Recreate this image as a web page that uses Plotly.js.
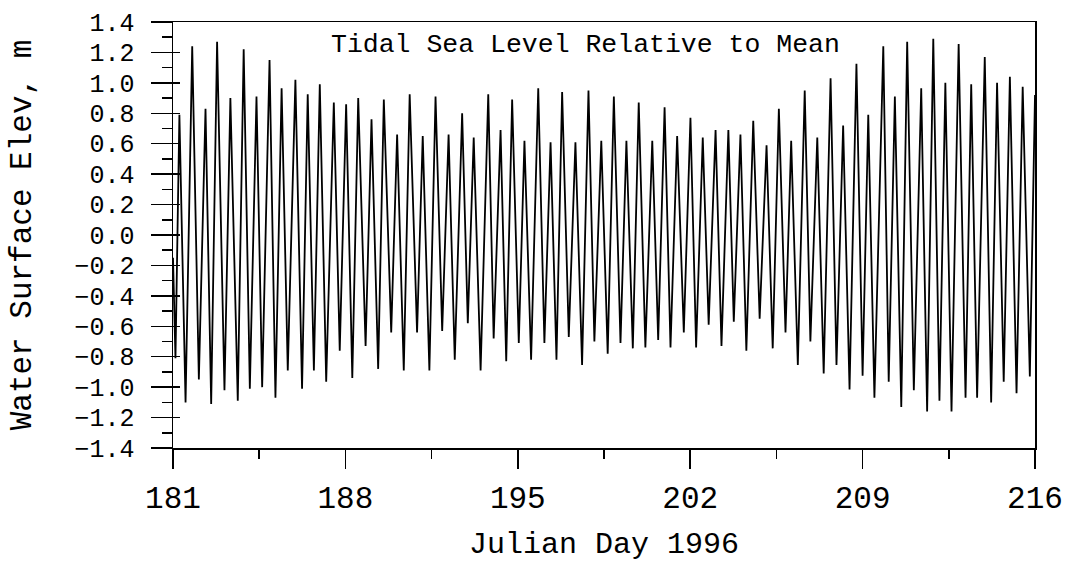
<!DOCTYPE html>
<html>
<head>
<meta charset="utf-8">
<script src="https://cdn.plot.ly/plotly-3.0.1.min.js"></script>
<style>
html,body{margin:0;padding:0;background:#fff;}
#chart{width:1071px;height:562px;}
</style>
</head>
<body>
<div id="chart"></div>
<script>
// Tidal extremes (high and low waters), Julian day 1996
const days = [181.00,181.10,181.26,181.51,181.78,182.05,182.32,182.55,182.79,183.09,
183.33,183.63,183.87,184.12,184.39,184.62,184.92,185.16,185.41,185.66,
185.97,186.24,186.47,186.72,186.96,187.22,187.53,187.77,188.03,188.28,
188.52,188.82,189.06,189.33,189.56,189.86,190.10,190.37,190.61,190.91,
191.14,191.41,191.66,191.93,192.19,192.44,192.74,192.97,193.21,193.49,
193.80,194.02,194.30,194.53,194.77,195.04,195.27,195.54,195.83,196.08,
196.33,196.57,196.80,197.07,197.34,197.61,197.87,198.11,198.39,198.65,
198.90,199.17,199.41,199.67,199.91,200.18,200.46,200.70,200.96,201.20,
201.47,201.74,202.01,202.24,202.51,202.75,203.03,203.27,203.55,203.77,
204.04,204.28,204.56,204.82,205.10,205.35,205.60,205.87,206.10,206.37,
206.65,206.88,207.16,207.42,207.70,207.94,208.21,208.47,208.75,209.00,
209.23,209.48,209.84,210.06,210.31,210.57,210.81,211.08,211.38,211.62,
211.87,212.12,212.36,212.61,212.90,213.18,213.41,213.65,213.96,214.22,
214.46,214.73,214.98,215.25,215.50,215.79,216.00];
const elev = [-0.15,-0.81,0.79,-1.10,1.24,-0.95,0.83,-1.11,1.27,-1.02,
0.90,-1.09,1.22,-1.01,0.91,-1.00,1.15,-1.07,0.965,-0.89,
1.02,-1.01,0.925,-0.89,0.99,-0.965,0.87,-0.76,0.86,-0.94,
0.90,-0.73,0.76,-0.88,0.89,-0.64,0.66,-0.89,0.925,-0.64,
0.65,-0.89,0.91,-0.63,0.66,-0.82,0.80,-0.58,0.64,-0.89,
0.925,-0.68,0.69,-0.83,0.89,-0.71,0.62,-0.82,0.965,-0.71,
0.61,-0.82,0.94,-0.67,0.61,-0.855,0.95,-0.70,0.62,-0.78,
0.91,-0.71,0.62,-0.745,0.87,-0.74,0.62,-0.69,0.84,-0.74,
0.65,-0.64,0.77,-0.74,0.64,-0.59,0.69,-0.73,0.69,-0.57,
0.66,-0.76,0.75,-0.55,0.59,-0.745,0.83,-0.64,0.62,-0.855,
0.95,-0.70,0.64,-0.91,1.03,-0.855,0.72,-1.015,1.125,-0.925,
0.79,-1.07,1.24,-0.965,0.91,-1.13,1.27,-1.02,0.965,-1.16,
1.29,-1.09,1.00,-1.16,1.255,-1.07,0.99,-1.07,1.17,-1.10,
1.00,-0.965,1.04,-1.04,0.975,-0.93,0.92];

const titleText = "Tidal Sea Level Relative to Mean";
const xTitle = "Julian Day 1996";
const yTitle = "Water Surface Elev, m";

const FONT = "Liberation Mono, Courier New, monospace";

const trace = {
  x: days, y: elev, type: 'scatter', mode: 'lines',
  line: {color: '#000', width: 1.8}, hoverinfo: 'skip', showlegend: false
};
// invisible trace on overlay axis so inner tick stubs draw
const trace2 = {
  x: [days[0]], y: [elev[0]], yaxis: 'y2', type: 'scatter', mode: 'lines',
  line: {color: 'rgba(0,0,0,0)'}, hoverinfo: 'skip', showlegend: false
};

const layout = {
  width: 1071, height: 562,
  margin: {l: 173, r: 36, t: 22, b: 114, pad: 0},
  paper_bgcolor: '#fff', plot_bgcolor: '#fff',
  font: {family: FONT, color: '#000'},
  xaxis: {
    range: [181, 216], tick0: 181, dtick: 7, tickmode: 'linear',
    ticks: 'outside', ticklen: 19, tickwidth: 1.5, tickcolor: '#000',
    minor: {dtick: 3.5, tick0: 181, ticks: 'outside', ticklen: 9, tickwidth: 1.5, tickcolor: '#000'},
    showline: true, linecolor: '#000', linewidth: 1.5, mirror: true,
    showgrid: false, zeroline: false,
    tickfont: {family: FONT, size: 31, color: '#000'},
    ticklabelstandoff: 2,
    title: {text: xTitle, font: {family: FONT, size: 30, color: '#000'}, standoff: 22},
    automargin: false, fixedrange: true
  },
  yaxis: {
    range: [-1.4, 1.4], tick0: 0, dtick: 0.2, tickmode: 'linear', tickformat: '.1f',
    ticks: 'outside', ticklen: 21, tickwidth: 1.5, tickcolor: '#000',
    minor: {dtick: 0.1, ticks: 'outside', ticklen: 10, tickwidth: 1.5, tickcolor: '#000'},
    showline: true, linecolor: '#000', linewidth: 1.5, mirror: true,
    showgrid: false, zeroline: false,
    tickfont: {family: FONT, size: 25, color: '#000'},
    ticklabelstandoff: 11,
    title: {text: yTitle, font: {family: FONT, size: 31, color: '#000'}, standoff: 33},
    automargin: false, fixedrange: true
  },
  yaxis2: {
    overlaying: 'y', side: 'left', range: [-1.4, 1.4], tick0: 0, dtick: 0.2, tickmode: 'linear',
    ticks: 'inside', ticklen: 7, tickwidth: 1.5, tickcolor: '#000',
    showticklabels: false, showline: false, showgrid: false, zeroline: false, fixedrange: true
  },
  annotations: [{
    text: titleText, xref: 'paper', yref: 'paper', x: 0.478, y: 0.946,
    xanchor: 'center', yanchor: 'middle', showarrow: false,
    font: {family: FONT, size: 26.5, color: '#000'}
  }]
};

Plotly.newPlot('chart', [trace, trace2], layout, {staticPlot: true, displayModeBar: false});
</script>
</body>
</html>
